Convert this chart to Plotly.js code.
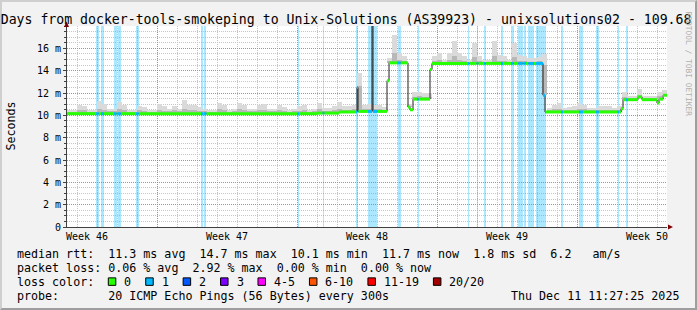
<!DOCTYPE html>
<html><head><meta charset="utf-8">
<script src="https://cdn.plot.ly/plotly-3.0.1.min.js"></script>
<style>
html,body{margin:0;padding:0;background:#f2f2f2;}
#wrap{position:relative;width:697px;height:310px;background:#f2f2f2;}
#frame{position:absolute;left:0;top:0;width:697px;height:310px;box-sizing:border-box;border-style:solid;border-width:2px;border-color:#cfcfcf #9e9e9e #9e9e9e #cfcfcf;z-index:0;}
#chart{position:absolute;left:0;top:0;width:697px;height:310px;z-index:1;}
</style></head><body>
<div id="wrap"><div id="frame"></div><div id="chart"></div></div>
<script>
// ---------------- data ----------------
const days = 30;            // x axis: days since start of graph
const yMax = 18;            // ms
const titleText = 'Days from docker-tools-smokeping to Unix-Solutions (AS39923) - unixsolutions02 - 109.68';
const weekLabels = ['Week 46', 'Week 47', 'Week 48', 'Week 49', 'Week 50'];
const weekLabelPos = [1, 8, 15, 22, 29];
const weekStarts = [4.5, 11.5, 18.5, 25.5];
const yTickVals = [0, 2, 4, 6, 8, 10, 12, 14, 16];
const yTickText = ['0', '2 m', '4 m', '6 m', '8 m', '10 m', '12 m', '14 m', '16 m'];

// median rtt (ms) as a step series: value holds from medianT[i] to medianT[i+1]
const medianT = [0, 12.5, 13.6, 14.5, 14.55, 15.25, 15.3, 16.0, 16.1, 17.05, 17.15, 17.3, 18.15, 18.25, 23.8, 23.9, 27.7, 27.8, 28.55, 28.75, 29.5, 29.6, 29.8, 30];
const medianV = [10.15, 10.2, 10.3, 12.5, 10.35, 30, 10.35, 13.1, 14.7, 10.75, 10.5, 11.45, 14.1, 14.65, 11.8, 10.3, 10.6, 11.4, 11.65, 11.4, 11.1, 11.45, 11.8, 11.8];

// periods with packet loss (1/20), in days
const lossStart = [1.45, 1.70, 2.35, 2.535, 3.45, 6.70, 6.85, 11.535, 12.785, 14.45, 15.05, 16.535, 17.525, 20.05, 20.485, 20.85, 21.70, 22.20, 22.565, 22.835, 23.065, 23.45, 24.70, 25.60, 26.45, 27.535, 27.95];
const lossEnd   = [1.585, 1.85, 2.475, 2.685, 3.585, 6.80, 6.965, 11.60, 12.865, 14.565, 15.515, 16.675, 17.585, 20.115, 20.565, 20.935, 21.80, 22.325, 22.785, 22.935, 23.35, 23.95, 24.80, 25.80, 26.585, 27.60, 28.05];

// smoke (ping spread), one value per 0.25 day column
const smokeStep = 0.25;
const smokeHi = [
 10.45, 10.45, 10.9, 10.85, 10.45, 10.5, 11.25, 11.0, 10.6, 10.6,
 11.15, 10.9, 10.45, 10.45, 10.85, 10.75, 10.45, 10.5, 11.05, 10.8,
 10.55, 10.85, 10.55, 11.35, 10.9, 10.9, 10.75, 10.6, 10.45, 10.5,
 11.1, 10.95, 10.5, 10.6, 11.1, 10.9, 10.55, 10.6, 10.95, 11.05,
 10.6, 10.55, 10.9, 10.75, 10.5, 10.6, 10.8, 10.9, 10.45, 10.6,
 11.1, 10.7, 10.65, 10.8, 11.2, 10.8, 10.85, 10.9, 13.8, 10.95,
 11.0, 10.95, 10.95, 10.75, 15.1, 17.2, 15.6, 15.3, 11.0, 12.05,
 12.1, 12.0, 12.0, 15.3, 15.55, 15.0, 15.6, 16.7, 15.6, 15.3,
 14.95, 16.5, 15.3, 15.0, 15.0, 16.7, 15.4, 15.3, 15.0, 16.45,
 15.4, 15.3, 15.1, 15.1, 15.2, 15.5, 10.65, 10.95, 11.1, 10.65,
 10.75, 10.8, 11.1, 10.9, 10.65, 10.7, 10.85, 10.8, 10.85, 10.65,
 10.8, 12.05, 11.75, 11.7, 12.35, 11.75, 11.7, 11.75, 12.1, 12.3
];
const smokeMid = [
 10.3, 10.3, 10.5, 10.45, 10.3, 10.3, 10.6, 10.5, 10.35, 10.35,
 10.55, 10.45, 10.3, 10.3, 10.45, 10.4, 10.3, 10.3, 10.5, 10.4,
 10.35, 10.45, 10.35, 10.6, 10.45, 10.45, 10.4, 10.35, 10.3, 10.3,
 10.55, 10.45, 10.3, 10.35, 10.55, 10.45, 10.35, 10.35, 10.5, 10.5,
 10.35, 10.35, 10.45, 10.4, 10.3, 10.35, 10.4, 10.45, 10.3, 10.35,
 10.55, 10.4, 10.4, 10.45, 10.6, 10.5, 10.5, 10.55, 12.6, 10.6,
 10.6, 10.6, 10.6, 10.5, 14.85, 15.6, 15.0, 14.9, 10.85, 11.65,
 11.7, 11.65, 11.65, 14.9, 15.0, 14.8, 15.0, 15.3, 15.0, 14.9,
 14.8, 15.2, 14.9, 14.8, 14.8, 15.3, 14.9, 14.9, 14.8, 15.2,
 14.9, 14.9, 14.8, 14.8, 14.85, 14.5, 10.45, 10.55, 10.6, 10.45,
 10.5, 10.5, 10.6, 10.55, 10.45, 10.45, 10.5, 10.5, 10.5, 10.45,
 10.5, 11.65, 11.55, 11.55, 11.85, 11.55, 11.55, 11.55, 11.7, 11.85
];

// legend / statistics
const rttValues = [11.3, 14.7, 10.1, 11.7];
const statNames = ['avg', 'max', 'min', 'now'];
const rttSd = 1.8;
const rttAmps = 6.2;
const lossValues = [0.06, 2.92, 0.00, 0.00];
const lossColorLabels = ['0', '1', '2', '3', '4-5', '6-10', '11-19', '20/20'];
const lossColors = ['#26ff00', '#00b8ff', '#0059ff', '#7e00ff', '#ff00ff', '#ff5500', '#ff0000', '#a10000'];
const probeText = 'probe:       20 ICMP Echo Pings (56 Bytes) every 300s';
const dateText = 'Thu Dec 11 11:27:25 2025';

// ---------------- build ----------------
const W = 697, H = 310, ML = 67, MR = 30, MT = 26, MB = 82.5;
const PW = W - ML - MR, PH = H - MT - MB;
const px = x => (x - ML) / PW;
const py = y => 1 - (y - MT) / PH;
const nb = s => s.replace(/ /g, '\u00a0');
const mono = 'DejaVu Sans Mono';

function medAt(t) {
  let v = medianV[0];
  for (let i = 0; i < medianT.length; i++) { if (medianT[i] <= t) v = medianV[i]; }
  return v;
}
function inLoss(t) {
  for (let i = 0; i < lossStart.length; i++) if (t >= lossStart[i] && t < lossEnd[i]) return true;
  return false;
}

const traces = [];
// loss background bars
traces.push({
  type: 'bar', x: lossStart.map((s, i) => (s + lossEnd[i]) / 2), width: lossStart.map((s, i) => lossEnd[i] - s),
  base: lossStart.map(() => 0), y: lossStart.map(() => yMax),
  marker: {color: 'rgba(0,184,255,0.33)', line: {width: 0}}, hoverinfo: 'skip'
});
// smoke
const sx = smokeHi.map((_, k) => (k + 0.5) * smokeStep);
const sBase = sx.map(t => medAt(t));
traces.push({
  type: 'bar', x: sx, width: sx.map(() => smokeStep), base: sBase,
  y: smokeHi.map((v, k) => Math.max(v - sBase[k], 0)),
  marker: {color: '#dadada', line: {width: 0}}, hoverinfo: 'skip'
});
traces.push({
  type: 'bar', x: sx, width: sx.map(() => smokeStep), base: sBase,
  y: smokeMid.map((v, k) => Math.max(v - sBase[k], 0)),
  marker: {color: '#b8b8b8', line: {width: 0}}, hoverinfo: 'skip'
});
// black median line
traces.push({
  type: 'scatter', mode: 'lines', x: medianT, y: medianV,
  line: {shape: 'hv', color: '#202020', width: 1}, hoverinfo: 'skip'
});
// colored median band
let bps = medianT.concat(lossStart, lossEnd).filter(t => t >= 0 && t <= days);
bps = Array.from(new Set(bps)).sort((a, b) => a - b);
const gx = [], gy = [], bx = [], by = [];
for (let i = 0; i < bps.length - 1; i++) {
  const a = bps[i], b = bps[i + 1], m = (a + b) / 2, v = medAt(m);
  if (inLoss(m)) { bx.push(a, b, null); by.push(v, v, null); }
  else { gx.push(a, b, null); gy.push(v, v, null); }
}
traces.push({type: 'scatter', mode: 'lines', x: gx, y: gy, line: {color: lossColors[0], width: 3}, hoverinfo: 'skip', connectgaps: false});
traces.push({type: 'scatter', mode: 'lines', x: bx, y: by, line: {color: lossColors[1], width: 3}, hoverinfo: 'skip', connectgaps: false});
// dummy trace to activate the label axis
traces.push({type: 'scatter', mode: 'markers', x: [null], y: [null], xaxis: 'x2', yaxis: 'y', hoverinfo: 'skip'});

// annotations
const legFont = {family: mono, size: 11.66, color: '#000'};
const annotations = [];
function txt(s, x, y, anchor) {
  annotations.push({text: nb(s), xref: 'paper', yref: 'paper', x: px(x), y: py(y), xanchor: anchor || 'left', yanchor: 'middle',
    showarrow: false, borderpad: 0, font: legFont});
}
const line1 = 'median rtt:  ' + rttValues.map((v, i) => v.toFixed(1) + ' ms ' + statNames[i]).join('  ') +
  '  ' + rttSd.toFixed(1) + ' ms sd  ' + rttAmps.toFixed(1) + '   am/s';
const line2 = 'packet loss: ' + lossValues.map((v, i) => v.toFixed(2) + ' % ' + statNames[i]).join('  ');
txt(line1, 16, 254.3);
txt(line2, 16, 268.3);
txt('loss color:', 16, 282.3);
txt(probeText, 16, 296.3);
txt(dateText, 680, 296.3, 'right');

const shapes = [];
const CW = 7.02;
let bxp = 108.3;
lossColorLabels.forEach((lab, i) => {
  shapes.push({type: 'rect', xref: 'paper', yref: 'paper', x0: px(bxp), x1: px(bxp + 7.5), y0: py(286), y1: py(278.5),
    fillcolor: lossColors[i], line: {color: '#000', width: 1}, layer: 'above'});
  const lx = bxp + 15;
  txt(lab, lx, 282.3);
  bxp = lx + CW * lab.length + 15.4;
});

// y axis title
annotations.push({text: 'Seconds', xref: 'paper', yref: 'paper', x: px(10), y: 0.5, xanchor: 'center', yanchor: 'middle',
  textangle: -90, showarrow: false, font: {family: mono, size: 11.66, color: '#000'}});
// watermark
annotations.push({text: nb('RRDTOOL / TOBI OETIKER'), xref: 'paper', yref: 'paper', x: px(688.5), y: py(64), xanchor: 'center', yanchor: 'middle',
  textangle: 90, showarrow: false, font: {family: mono, size: 7.9, color: '#b0b0b0'}});

// axis arrows
shapes.push({type: 'path', xref: 'paper', yref: 'paper', xsizemode: 'pixel', ysizemode: 'pixel', xanchor: 1, yanchor: 0,
  path: 'M 1,-2.5 L 1,2.5 L 6,0 Z', fillcolor: '#800000', line: {width: 0}, layer: 'above'});
shapes.push({type: 'path', xref: 'paper', yref: 'paper', xsizemode: 'pixel', ysizemode: 'pixel', xanchor: 0, yanchor: 1,
  path: 'M -3,-1 L 2,-1 L -0.5,4.5 Z', fillcolor: '#800000', line: {width: 0}, layer: 'above'});

const gridMinor = '#c6c6c6', gridMajor = 'rgba(222,79,79,0.6)';
const layout = {
  width: W, height: H,
  margin: {l: ML, r: MR, t: MT, b: MB, pad: 0},
  paper_bgcolor: 'rgba(0,0,0,0)', plot_bgcolor: '#ffffff',
  showlegend: false, barmode: 'overlay', bargap: 0,
  font: {family: mono, size: 10, color: '#000'},
  title: {text: titleText, font: {family: mono, size: 13.2, color: '#000'},
    xref: 'container', x: 0.001, xanchor: 'left', yref: 'container', y: 1 - 19.5 / H, yanchor: 'middle'},
  xaxis: {range: [0, days], tickmode: 'array', tickvals: weekStarts, showticklabels: false, ticks: '',
    showgrid: true, gridcolor: gridMajor, griddash: '1px,1px', gridwidth: 1, zeroline: false,
    showline: true, linecolor: '#404040', linewidth: 1, fixedrange: true,
    minor: {tickmode: 'linear', tick0: 0.5, dtick: 1, showgrid: true, gridcolor: gridMinor, griddash: '1px,1px', gridwidth: 1, ticks: ''}},
  xaxis2: {overlaying: 'x', anchor: 'y', side: 'bottom', range: [0, days], tickmode: 'array', tickvals: weekLabelPos, ticktext: weekLabels,
    showgrid: false, zeroline: false, showline: false, ticks: '', ticklabelstandoff: 2,
    tickfont: {family: mono, size: 10, color: '#000'}, fixedrange: true},
  yaxis: {range: [0, yMax], tickmode: 'array', tickvals: yTickVals, ticktext: yTickText,
    showgrid: true, gridcolor: gridMajor, griddash: '1px,1px', gridwidth: 1, zeroline: false,
    showline: true, linecolor: '#404040', linewidth: 1, ticks: 'outside', ticklen: 3, tickcolor: '#404040',
    tickfont: {family: mono, size: 10, color: '#000'}, fixedrange: true,
    minor: {tickmode: 'linear', tick0: 0, dtick: 0.5, showgrid: true, gridcolor: gridMinor, griddash: '1px,1px', gridwidth: 1,
      ticks: 'outside', ticklen: 2, tickcolor: '#404040'}},
  annotations: annotations,
  shapes: shapes
};
Plotly.newPlot('chart', traces, layout, {staticPlot: true, displayModeBar: false});
</script>
</body></html>
